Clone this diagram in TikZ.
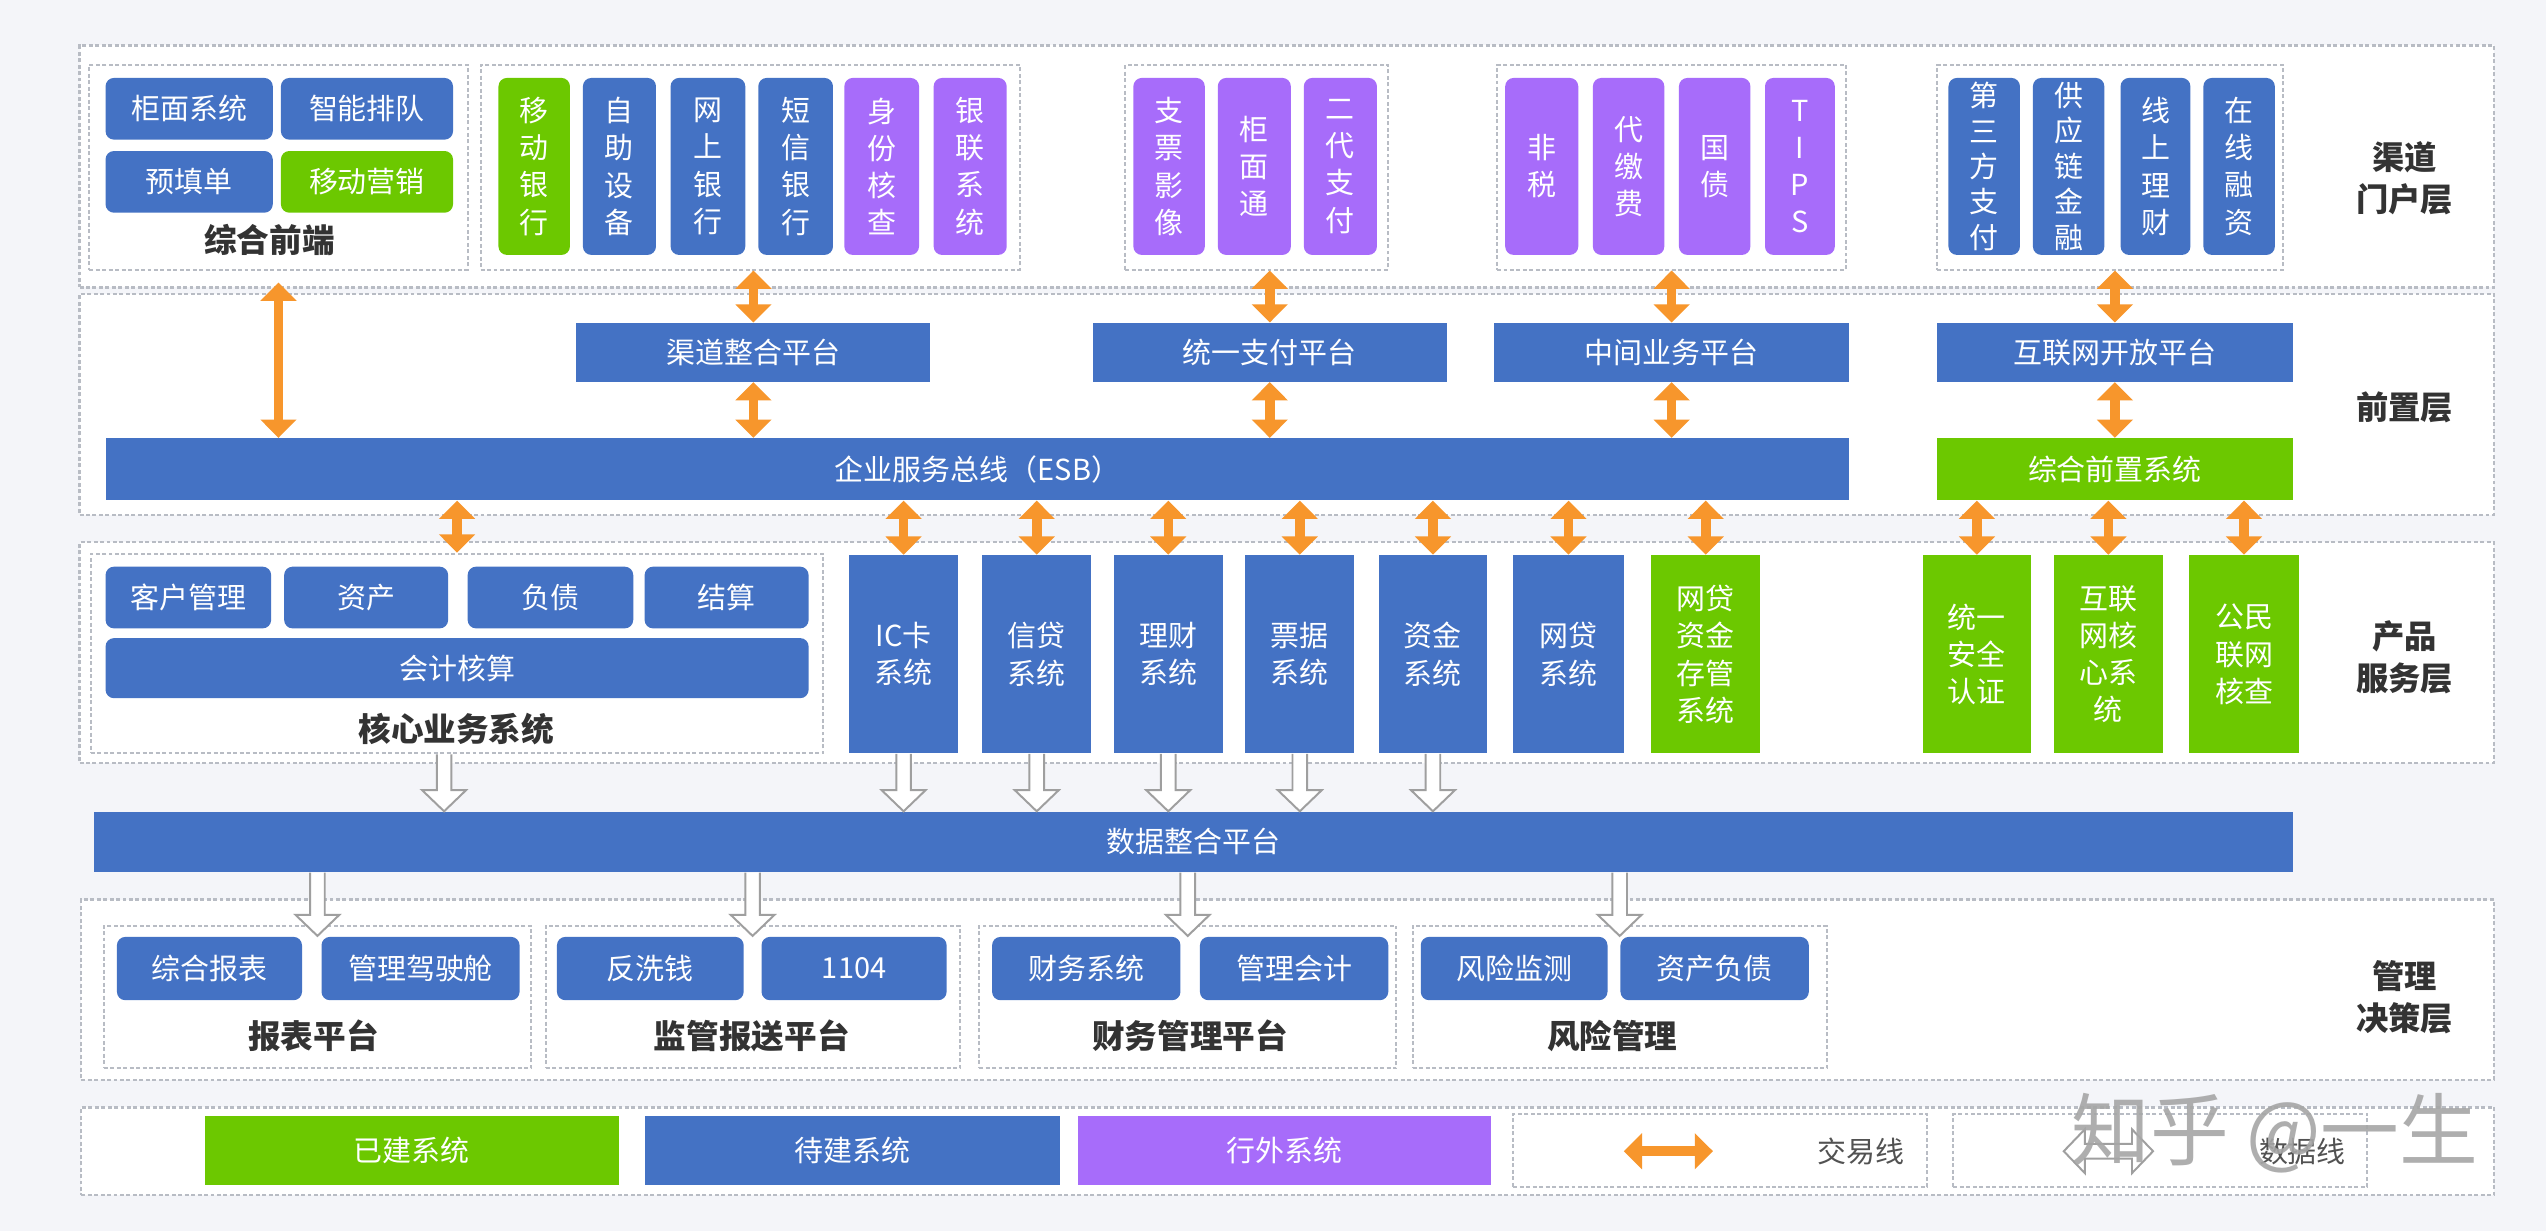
\documentclass[tikz,border=0pt]{standalone}
\usepackage{fontspec}
\setmainfont{Noto Sans CJK SC}
\usetikzlibrary{fit,calc,arrows.meta}
\definecolor{bk}{HTML}{4472C4}
\definecolor{gk}{HTML}{6CC800}
\definecolor{pk}{HTML}{A76CFA}
\definecolor{ok}{HTML}{F7962C}
\definecolor{bgc}{HTML}{F4F5F9}
\definecolor{ink}{HTML}{333333}
\definecolor{lnc}{HTML}{B8BCC4}
\tikzset{
  lyr/.style={draw=lnc, fill=white, line width=0.8pt, dash pattern=on 1.4pt off 0.9pt, inner sep=0pt},
  grp/.style={draw=lnc, line width=0.7pt, dash pattern=on 1.4pt off 0.9pt, inner sep=0pt},
  boxat/.style args={#1/#2/#3/#4}{at={({(#1+#3)/2},{(#2+#4)/2})}, minimum width={(#3-#1)*0.0203cm}, minimum height={(#4-#2)*0.0203cm}},
  sys/.style={inner sep=0pt, text=white, align=center, font=\fontsize{10.3}{13.2}\selectfont},
  bsys/.style={sys, fill=bk},
  gsys/.style={sys, fill=gk},
  psys/.style={sys, fill=pk},
  rnd/.style={rounded corners=3pt},
  grplab/.style={text=ink, font=\fontsize{11.6}{15}\selectfont\bfseries},
  lyrlab/.style={text=ink, align=center, font=\fontsize{11.5}{14.9}\selectfont\bfseries},
  keylab/.style={text=ink!85, font=\fontsize{10.3}{13}\selectfont},
  txline/.style={draw=ok, line width=3.4pt, {Triangle[width=12.5pt,length=6.5pt]}-{Triangle[width=12.5pt,length=6.5pt]}},
  dtline/.style={draw=gray!75, fill=white, line width=0.7pt}
}
\newcommand{\datadown}[2]{\draw[dtline] let \p1=(#1), \p2=(#2) in (\x1-2.6pt,\y1) -- (\x1-2.6pt,\y2+7.5pt) -- (\x1-7.8pt,\y2+7.5pt) -- (\x1,\y2) -- (\x1+7.8pt,\y2+7.5pt) -- (\x1+2.6pt,\y2+7.5pt) -- (\x1+2.6pt,\y1);}

\begin{document}
\begin{tikzpicture}[x=0.0203cm, y=-0.0203cm]
\fill[bgc] (0,0) rectangle (1568,758);
\useasboundingbox (0,0) rectangle (1568,758);

\node[lyr, fit={(49,28) (1536,177)}] (l1) {};
\node[lyr, fit={(49,181) (1536,317)}] (l2) {};
\node[lyr, fit={(49,334) (1536,470)}] (l3) {};
\node[lyr, fit={(50,554) (1536,665)}] (l4) {};
\node[lyr, fit={(50,682) (1536,736)}] (l5) {};
\node[lyrlab] (l1l) at (1481,110) {渠道\\门户层};
\node[lyrlab] (l2l) at (1481,251) {前置层};
\node[lyrlab] (l3l) at (1481,405) {产品\\服务层};
\node[lyrlab] (l4l) at (1481,614) {管理\\决策层};

\node[grp, fit={(55,40) (288,166)}] (fe) {};
\node[bsys, rnd, boxat=65/48/168/86] (fe1) {柜面系统};
\node[bsys, rnd, boxat=173/48/279/86] (fe2) {智能排队};
\node[bsys, rnd, boxat=65/93/168/131] (fe3) {预填单};
\node[gsys, rnd, boxat=173/93/279/131] (fe4) {移动营销};
\node[grplab] (fel) at (166,148) {综合前端};

\node[grp, fit={(296,40) (628,166)}] (chg) {};
\node[gsys, rnd, boxat=307/48/351/157] (mb) {移\\动\\银\\行};
\node[bsys, rnd, boxat=359/48/404/157] (sd) {自\\助\\设\\备};
\node[bsys, rnd, boxat=413/48/459/157] (wb) {网\\上\\银\\行};
\node[bsys, rnd, boxat=467/48/513/157] (sm) {短\\信\\银\\行};
\node[psys, rnd, boxat=520/48/566/157] (idc) {身\\份\\核\\查};
\node[psys, rnd, boxat=575/48/620/157] (up) {银\\联\\系\\统};

\node[grp, fit={(693,40) (855,166)}] (payg) {};
\node[psys, rnd, boxat=698/48/742/157] (chq) {支\\票\\影\\像};
\node[psys, rnd, boxat=750/48/795/157] (gmt) {柜\\面\\通};
\node[psys, rnd, boxat=803/48/848/157] (cnaps) {二\\代\\支\\付};

\node[grp, fit={(922,40) (1137,166)}] (midg) {};
\node[psys, rnd, boxat=927/48/972/157] (ntx) {非\\税};
\node[psys, rnd, boxat=981/48/1025/157] (fee) {代\\缴\\费};
\node[psys, rnd, boxat=1034/48/1078/157] (bond) {国\\债};
\node[psys, rnd, boxat=1087/48/1130/157] (tips) {T\\I\\P\\S};

\node[grp, fit={(1193,40) (1406,166)}] (netg) {};
\node[bsys, rnd, boxat=1200/48/1244/157, font=\fontsize{10.3}{12.6}\selectfont] (tpp) {第\\三\\方\\支\\付};
\node[bsys, rnd, boxat=1252/48/1296/157, font=\fontsize{10.3}{12.6}\selectfont] (scf) {供\\应\\链\\金\\融};
\node[bsys, rnd, boxat=1306/48/1349/157] (olw) {线\\上\\理\\财};
\node[bsys, rnd, boxat=1357/48/1401/157] (olf) {在\\线\\融\\资};

\node[bsys, boxat=355/199/573/235] (ch) {渠道整合平台};
\node[bsys, boxat=673/199/891/235] (pay) {统一支付平台};
\node[bsys, boxat=920/199/1139/235] (mid) {中间业务平台};
\node[bsys, boxat=1193/199/1412/235] (inet) {互联网开放平台};
\node[bsys, boxat=65/270/1139/308] (esb) {企业服务总线（ESB）};
\node[gsys, boxat=1193/270/1412/308] (fep) {综合前置系统};

\node[grp, fit={(56,341) (507,464)}] (core) {};
\node[bsys, rnd, boxat=65/349/167/387] (c1) {客户管理};
\node[bsys, rnd, boxat=175/349/276/387] (c2) {资产};
\node[bsys, rnd, boxat=288/349/390/387] (c3) {负债};
\node[bsys, rnd, boxat=397/349/498/387] (c4) {结算};
\node[bsys, rnd, boxat=65/393/498/430] (c5) {会计核算};
\node[grplab] (corel) at (281,449) {核心业务系统};
\node[bsys, boxat=523/342/590/464] (ic) {IC卡\\系统};
\node[bsys, boxat=605/342/672/464] (crd) {信贷\\系统};
\node[bsys, boxat=686/342/753/464] (wlt) {理财\\系统};
\node[bsys, boxat=767/342/834/464] (bill) {票据\\系统};
\node[bsys, boxat=849/342/916/464] (fund) {资金\\系统};
\node[bsys, boxat=932/342/1000/464] (p2p) {网贷\\系统};
\node[gsys, boxat=1017/342/1084/464] (cust) {网贷\\资金\\存管\\系统};
\node[gsys, boxat=1184/342/1251/464] (auth) {统一\\安全\\认证};
\node[gsys, boxat=1265/342/1332/464] (icore) {互联\\网核\\心系\\统};
\node[gsys, boxat=1348/342/1416/464] (cid) {公民\\联网\\核查};

\node[bsys, boxat=58/500/1412/537] (dip) {数据整合平台};

\node[grp, fit={(64,570) (327,658)}] (rpt) {};
\node[bsys, rnd, boxat=72/577/186/616] (rpt1) {综合报表};
\node[bsys, rnd, boxat=198/577/320/616] (rpt2) {管理驾驶舱};
\node[grplab] (rptl) at (193,638) {报表平台};
\node[grp, fit={(336,570) (591,658)}] (sup) {};
\node[bsys, rnd, boxat=343/577/458/616] (sup1) {反洗钱};
\node[bsys, rnd, boxat=469/577/583/616] (sup2) {1104};
\node[grplab] (supl) at (463,638) {监管报送平台};
\node[grp, fit={(603,570) (860,658)}] (fin) {};
\node[bsys, rnd, boxat=611/577/727/616] (fin1) {财务系统};
\node[bsys, rnd, boxat=739/577/855/616] (fin2) {管理会计};
\node[grplab] (finl) at (733,638) {财务管理平台};
\node[grp, fit={(870,570) (1125,658)}] (risk) {};
\node[bsys, rnd, boxat=875/577/990/616] (risk1) {风险监测};
\node[bsys, rnd, boxat=998/577/1114/616] (risk2) {资产负债};
\node[grplab] (riskl) at (993,638) {风险管理};

\node[gsys, boxat=126/687/381/730] (k1) {已建系统};
\node[bsys, boxat=397/687/653/730] (k2) {待建系统};
\node[psys, boxat=664/687/918/730] (k3) {行外系统};
\node[grp, fit={(932,686) (1187,731)}] (k4) {};
\node[grp, fit={(1203,686) (1458,731)}] (k5) {};
\node[keylab] (k4l) at (1146,709) {交易线};
\node[keylab] (k5l) at (1418,709) {数据线};
\coordinate (t1) at (1000,709); \coordinate (t2) at (1055,709); \draw[txline] (t1) -- (t2);
\coordinate (d1) at (1271,709); \coordinate (d2) at (1326,709);
\draw[dtline] let \p1=(d1), \p2=(d2) in (\x1,\y1) -- (\x1+7.5pt,\y1+7.8pt) -- (\x1+7.5pt,\y1+2.6pt) -- (\x2-7.5pt,\y1+2.6pt) -- (\x2-7.5pt,\y1+7.8pt) -- (\x2,\y1) -- (\x2-7.5pt,\y1-7.8pt) -- (\x2-7.5pt,\y1-2.6pt) -- (\x1+7.5pt,\y1-2.6pt) -- (\x1+7.5pt,\y1-7.8pt) -- cycle;

\draw[txline, shorten <=0.15cm] (fe.south) -- (fe.south |- esb.north);
\draw[txline] (ch.north |- chg.south) -- (ch.north);
\draw[txline] (ch.south) -- (ch.south |- esb.north);
\draw[txline] (pay.north |- payg.south) -- (pay.north);
\draw[txline] (pay.south) -- (pay.south |- esb.north);
\draw[txline] (mid.north |- midg.south) -- (mid.north);
\draw[txline] (mid.south) -- (mid.south |- esb.north);
\draw[txline] (inet.north |- netg.south) -- (inet.north);
\draw[txline] (inet.south) -- (fep.north);
\draw[txline] (core.north |- esb.south) -- (core.north);
\draw[txline] (ic.north |- esb.south) -- (ic.north);
\draw[txline] (crd.north |- esb.south) -- (crd.north);
\draw[txline] (wlt.north |- esb.south) -- (wlt.north);
\draw[txline] (bill.north |- esb.south) -- (bill.north);
\draw[txline] (fund.north |- esb.south) -- (fund.north);
\draw[txline] (p2p.north |- esb.south) -- (p2p.north);
\draw[txline] (cust.north |- esb.south) -- (cust.north);
\draw[txline] (auth.north |- fep.south) -- (auth.north);
\draw[txline] (icore.north |- fep.south) -- (icore.north);
\draw[txline] (cid.north |- fep.south) -- (cid.north);

\coordinate (cd) at ($(core.south)+(-8,0)$);
\datadown{cd}{cd |- dip.north}
\datadown{ic.south}{ic.south |- dip.north}
\datadown{crd.south}{crd.south |- dip.north}
\datadown{wlt.south}{wlt.south |- dip.north}
\datadown{bill.south}{bill.south |- dip.north}
\datadown{fund.south}{fund.south |- dip.north}
\datadown{dip.south -| rpt.north}{$(rpt.north)+(0,7)$}
\datadown{dip.south -| sup.north}{$(sup.north)+(0,7)$}
\datadown{dip.south -| fin.north}{$(fin.north)+(0,7)$}
\datadown{dip.south -| risk.north}{$(risk.north)+(0,7)$}

\node[text=gray!70, opacity=0.9, font=\fontsize{28}{28}\selectfont] (wm) at (1401,698) {知乎 @一生};
\end{tikzpicture}
\end{document}
